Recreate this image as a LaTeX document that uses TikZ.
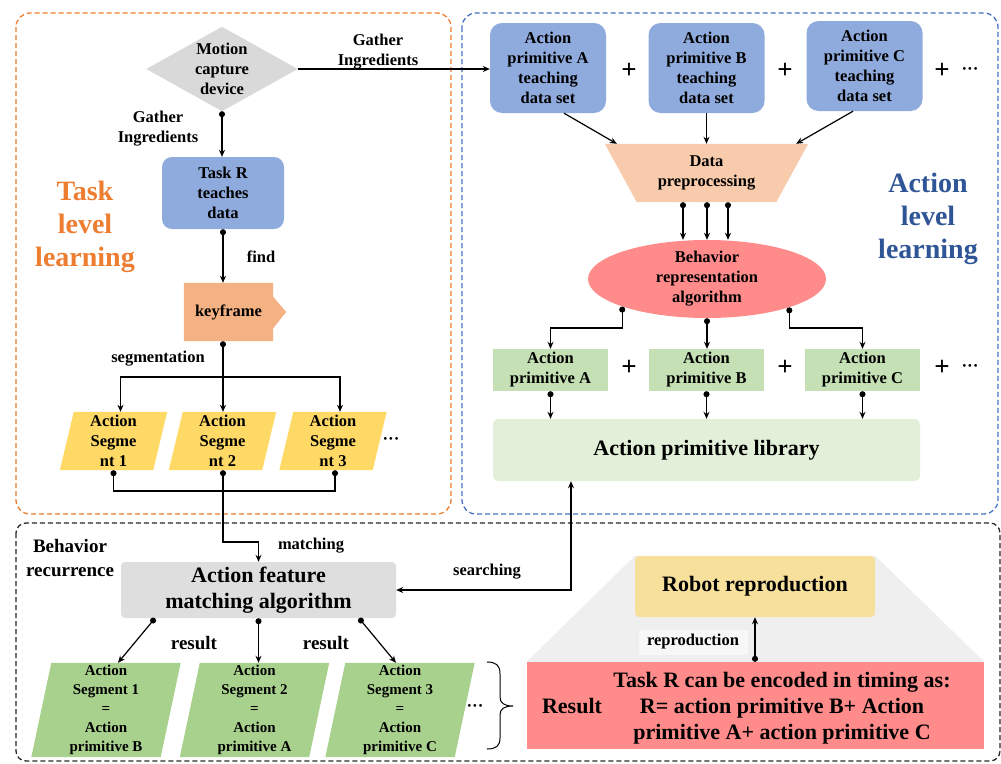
\documentclass[tikz,border=0pt]{standalone}
\usepackage{fontspec}
\setmainfont{Liberation Serif}
\usetikzlibrary{arrows.meta,shapes.geometric,backgrounds,calc}

\definecolor{boxblue}{HTML}{8FAADC}
\definecolor{frameorange}{HTML}{ED7D31}
\definecolor{frameblue}{HTML}{4472C4}
\definecolor{titleblue}{HTML}{2F5597}
\definecolor{devgray}{HTML}{D9D9D9}
\definecolor{keyorange}{HTML}{F4B183}
\definecolor{segyellow}{HTML}{FFD966}
\definecolor{prepeach}{HTML}{F8CBAD}
\definecolor{algred}{HTML}{FF8B8B}
\definecolor{primgreen}{HTML}{C5E0B4}
\definecolor{libgreen}{HTML}{E2F0D9}
\definecolor{matchgray}{HTML}{DEDEDE}
\definecolor{resgreen}{HTML}{A9D18E}
\definecolor{fangray}{HTML}{EFEFEF}
\definecolor{labelgray}{HTML}{F7F7F7}
\definecolor{robotyellow}{HTML}{F6E09C}

\newcommand\myfs[2]{\fontsize{#1}{#2}\selectfont\bfseries}
\newcommand\middots{\char"00B7\char"00B7\char"00B7}

\tikzset{
  txt/.style={inner sep=0pt, align=center, font=\myfs{16.5}{20}},
  bigtxt/.style={inner sep=0pt, align=center, font=\myfs{22}{26}},
  small/.style={inner sep=0pt, align=center, font=\myfs{15}{19}},
  title/.style={inner sep=0pt, align=center, font=\myfs{28}{33}},
  plus/.style={inner sep=0pt, font=\myfs{27}{30}},
  dotsnode/.style={inner sep=0pt, font=\myfs{17}{20}},
  frame/.style={line width=1.3pt, dash pattern=on 5pt off 3pt, rounded corners=14pt},
  wire/.style={line width=1.2pt},
  conn/.style={wire, -{Stealth[length=7pt,width=6pt]}},
  dconn/.style={wire, {Circle[length=6pt]}-{Stealth[length=7pt,width=6pt]}},
}

\begin{document}
\begin{tikzpicture}[x=1pt, y=-1pt]
\useasboundingbox (0,0) rectangle (1001,763);

% ---------- frames ----------
\draw[frame, frameorange] (16,13) rectangle (451,514);
\draw[frame, frameblue] (462,13) rectangle (998,514);
\draw[frame, black!85, rounded corners=10pt] (16,523) rectangle (1000,761);

% ---------- task level learning ----------
\node[title, text=frameorange] (tll) at (85,227) {Task\\level\\learning};
\node[txt, minimum width=151pt, minimum height=84pt] (mcd) at (222,69) {Motion\\capture\\device};
\node[txt, fill=boxblue, rounded corners=10pt, minimum width=122pt, minimum height=72pt] (taskR) at (223,193) {Task R\\teaches\\data};
\node[txt, minimum width=89pt, minimum height=58pt] (kf) at (228.5,312) {keyframe};
\node[txt, minimum width=93pt, minimum height=58pt] (seg1) at (113.5,441) {Action\\Segme\\nt 1};
\node[txt, minimum width=93pt, minimum height=58pt] (seg2) at (222.5,441) {Action\\Segme\\nt 2};
\node[txt, minimum width=93pt, minimum height=58pt] (seg3) at (333,441) {Action\\Segme\\nt 3};
\node[dotsnode] (segdots) at (391,441) {\middots};

\node[txt] (lgather1) at (378,51.5) {Gather\\Ingredients};
\node[txt] (lgather2) at (158,128.5) {Gather\\Ingredients};
\node[txt] (lfind) at (261,257) {find};
\node[txt] (lseg) at (158,359) {segmentation};

\coordinate (split) at (223,377);
\coordinate (join) at (223,491);
\coordinate (bend) at (223,542);

% ---------- action level learning ----------
\node[title, text=titleblue] (all) at (928,219) {Action\\level\\learning};
\node[txt, fill=boxblue, rounded corners=12pt, minimum width=116pt, minimum height=90pt] (tA) at (548,68) {Action\\primitive A\\teaching\\data set};
\node[txt, fill=boxblue, rounded corners=12pt, minimum width=116pt, minimum height=90pt] (tB) at (706.5,68) {Action\\primitive B\\teaching\\data set};
\node[txt, fill=boxblue, rounded corners=12pt, minimum width=116pt, minimum height=90pt] (tC) at (864.5,66) {Action\\primitive C\\teaching\\data set};
\node[txt, minimum width=203pt, minimum height=58pt] (dp) at (706.5,173) {Data\\preprocessing};
\node[txt, ellipse, fill=algred, minimum width=238pt, minimum height=78pt] (bra) at (707,279) {Behavior\\representation\\algorithm};
\node[txt, fill=primgreen, minimum width=115pt, minimum height=42pt] (pA) at (550.5,370) {Action\\primitive A};
\node[txt, fill=primgreen, minimum width=115pt, minimum height=42pt] (pB) at (706.5,370) {Action\\primitive B};
\node[txt, fill=primgreen, minimum width=115pt, minimum height=42pt] (pC) at (862.5,370) {Action\\primitive C};
\node[bigtxt, fill=libgreen, rounded corners=5pt, minimum width=427pt, minimum height=62pt] (lib) at (706.5,450) {Action primitive library};

\node[plus] (pt1) at (629,71) {+};
\node[plus] (pt2) at (785,71) {+};
\node[plus] (pt3) at (942,71) {+};
\node[dotsnode] (dt) at (970,71) {\middots};
\node[plus] (pm1) at (629,368) {+};
\node[plus] (pm2) at (785,368) {+};
\node[plus] (pm3) at (942,368) {+};
\node[dotsnode] (dm) at (970,368) {\middots};

\coordinate (lvl) at (707,328);

% ---------- behavior recurrence ----------
\node[inner sep=0pt, align=center, font=\myfs{19}{24}] (brec) at (70,558) {Behavior\\recurrence};
\node[bigtxt, fill=matchgray, rounded corners=4pt, minimum width=275pt, minimum height=56pt] (afm) at (258.5,590) {Action feature\\matching algorithm};
\node[txt] (lmatch) at (311,546) {matching};
\node[txt] (lsearch) at (487,572) {searching};
\node[inner sep=0pt, font=\myfs{19}{24}] (lres1) at (194,643) {result};
\node[inner sep=0pt, font=\myfs{19}{24}] (lres2) at (326,643) {result};

\node[small, minimum width=129pt, minimum height=94pt] (r1) at (106,710) {Action\\Segment 1\\=\\Action\\primitive B};
\node[small, minimum width=129pt, minimum height=94pt] (r2) at (254.5,710) {Action\\Segment 2\\=\\Action\\primitive A};
\node[small, minimum width=129pt, minimum height=94pt] (r3) at (400,710) {Action\\Segment 3\\=\\Action\\primitive C};
\node[dotsnode] (rdots) at (475,708) {\middots};

\node[bigtxt, fill=robotyellow, rounded corners=4pt, minimum width=240pt, minimum height=61pt] (rr) at (755,586.5) {Robot reproduction};
\node[fill=algred, inner sep=0pt, minimum width=457pt, minimum height=87pt] (res) at (755.5,705.5) {};
\node[bigtxt] (resl) at (572,706) {Result};
\node[bigtxt] (restxt) at (782,708.5) {Task R can be encoded in timing as:\\R= action primitive B+ Action\\primitive A+ action primitive C};
\node[txt, fill=labelgray, minimum width=109pt, minimum height=25pt] (lrep) at (693,642) {reproduction};

% ---------- shape fills behind the text ----------
\begin{scope}[on background layer]
  \fill[devgray] (mcd.north) -- (mcd.east) -- (mcd.south) -- (mcd.west) -- cycle;
  \fill[keyorange] (kf.north west) -- (kf.north east) -- ([yshift=-14pt]kf.north east)
    -- ([xshift=13pt]kf.east) -- ([yshift=13pt]kf.south east) -- (kf.south east)
    -- (kf.south west) -- cycle;
  \foreach \n in {seg1,seg2,seg3}
    \fill[segyellow] ([xshift=7pt]\n.north west) -- ([xshift=7pt]\n.north east)
      -- ([xshift=-7pt]\n.south east) -- ([xshift=-7pt]\n.south west) -- cycle;
  \fill[prepeach] (dp.north west) -- (dp.north east) -- ([xshift=-32pt]dp.south east)
    -- ([xshift=32pt]dp.south west) -- cycle;
  \foreach \n in {r1,r2,r3}
    \fill[resgreen] ([xshift=10pt]\n.north west) -- ([xshift=10pt]\n.north east)
      -- ([xshift=-10pt]\n.south east) -- ([xshift=-10pt]\n.south west) -- cycle;
  \fill[fangray] (rr.north west) -- (rr.north east) -- (res.north east) -- (res.north west) -- cycle;
\end{scope}

% ---------- connectors: task level ----------
\draw[conn] (mcd.east) -- (mcd.east -| tA.west);
\draw[dconn] (mcd.south) -- (mcd.south |- taskR.north);
\draw[dconn] (taskR.south) -- (taskR.south |- kf.north);
\draw[dconn] (split |- kf.south) -- (split |- seg2.north);
\draw[conn] (split) -| ([xshift=7pt]seg1.north);
\draw[conn] (split) -| ([xshift=7pt]seg3.north);
\draw[wire, {Circle[length=6pt]}-{Circle[length=6pt]}] (seg1.south) |- (join) -| ([xshift=2pt]seg3.south);
\draw[dconn] (bend |- seg2.south) -- (bend) -| (afm.north);

% ---------- connectors: action level ----------
\draw[conn] ([xshift=16pt]tA.south) -- ([xshift=12pt]dp.north west);
\draw[conn] (tB.south) -- (tB.south |- dp.north);
\draw[conn] ([xshift=-11.5pt]tC.south) -- ([xshift=-12pt]dp.north east);
\foreach \dx in {-23.5,0.5,21.5}
  \draw[dconn] ([xshift=\dx pt]dp.south) -- ([xshift=\dx pt]dp.south |- bra.north);
\draw[dconn] (bra.198.6) |- (lvl -| pA.north) -- (pA.north);
\draw[dconn] (bra.south) -- (bra.south |- pB.north);
\draw[dconn] (bra.341.4) |- (lvl -| pC.north) -- (pC.north);
\foreach \n in {pA,pB,pC}
  \draw[dconn] (\n.south) -- (\n.south |- lib.north);

% ---------- connectors: behavior recurrence ----------
\draw[wire, {Stealth[length=7pt,width=6pt]}-{Stealth[length=7pt,width=6pt]}] (afm.east) -| ([xshift=-135.5pt]lib.south);
\draw[dconn] ([xshift=-103.5pt]afm.south) -- ([xshift=12pt]r1.north);
\draw[dconn] (afm.south) -- (afm.south |- r2.north);
\draw[dconn] ([xshift=100.5pt]afm.south) -- ([xshift=-4pt]r3.north);
\draw[dconn] (rr.south |- res.north) -- (rr.south);

% brace gathering the matched segments
\draw[line width=1pt] (487,662) .. controls (496,662) and (500,665) .. (500,674)
  -- (500,697) .. controls (500,703) and (504,706) .. (513,706)
  .. controls (504,706) and (500,709) .. (500,715)
  -- (500,738) .. controls (500,746) and (496,749) .. (487,749);

\end{tikzpicture}
\end{document}
